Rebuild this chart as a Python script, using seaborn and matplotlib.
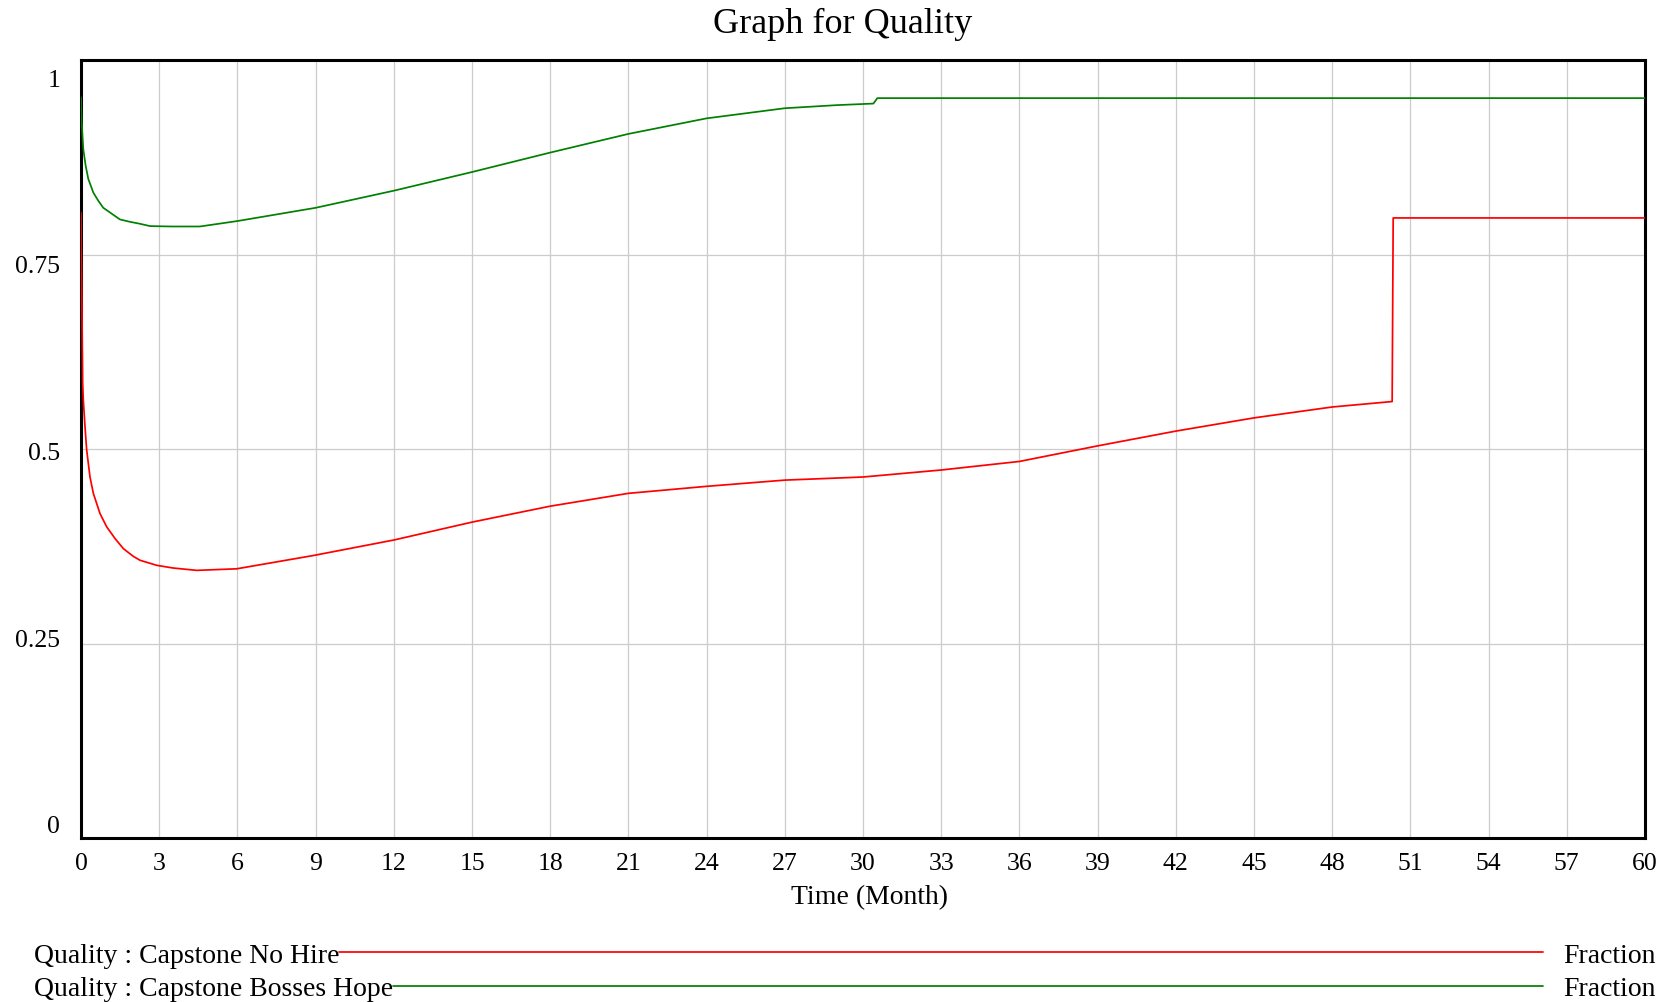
import matplotlib
matplotlib.use("Agg")
import matplotlib.pyplot as plt
from matplotlib.lines import Line2D
import seaborn as sns
import pandas as pd

# ---------------- data ----------------
title = "Graph for Quality"
x_label = "Time (Month)"

no_hire_t = [0, 0.064, 0.089, 0.153, 0.217, 0.345, 0.473, 0.729, 0.985, 1.304, 1.624, 2.007,
             2.263, 2.903, 3.54, 4.44, 5.97, 8.9,
             12, 15, 18, 21, 24, 27, 30, 33, 36, 39, 42, 45, 48, 50.3, 50.34, 60]
no_hire_v = [0.804, 0.585, 0.563, 0.529, 0.499, 0.464, 0.443, 0.417, 0.400, 0.385, 0.372, 0.362,
             0.357, 0.3505, 0.347, 0.344, 0.346, 0.363,
             0.383, 0.406, 0.4265, 0.443, 0.452, 0.460, 0.464, 0.473, 0.484, 0.504, 0.523, 0.540,
             0.554, 0.561, 0.797, 0.797]

bosses_t = [0, 0.026, 0.089, 0.179, 0.281, 0.473, 0.665, 0.856, 1.112, 1.496, 1.88, 2.26, 2.65,
            3.5, 4.56, 6, 9,
            12, 15, 18, 21, 24, 27, 29, 30.4, 30.55, 60]
bosses_v = [0.952, 0.920, 0.885, 0.864, 0.847, 0.8295, 0.819, 0.810, 0.804, 0.795, 0.792, 0.7895, 0.7865,
            0.786, 0.786, 0.793, 0.810,
            0.832, 0.856, 0.881, 0.905, 0.925, 0.938, 0.942, 0.944, 0.951, 0.951]

series_names = ["Quality : Capstone No Hire", "Quality : Capstone Bosses Hope"]
series_units = ["Fraction", "Fraction"]
series_colors = ["#ff0000", "#008000"]

x_ticks = list(range(0, 61, 3))
y_ticks = [0, 0.25, 0.5, 0.75, 1]
y_tick_labels = ["0", "0.25", "0.5", "0.75", "1"]

# ---------------- style ----------------
sns.set_theme(style="white")
plt.rcParams["font.family"] = ["Liberation Serif", "DejaVu Serif"]
plt.rcParams["text.color"] = "black"

W, H = 1674, 1003
fig = plt.figure(figsize=(W / 100, H / 100), dpi=100)
fig.patch.set_facecolor("white")

ax = fig.add_axes([81 / W, 1 - 839 / H, (1645 - 81) / W, (839 - 61) / H])
ax.set_facecolor("white")

df = pd.concat([
    pd.DataFrame({"t": no_hire_t, "v": no_hire_v, "series": series_names[0]}),
    pd.DataFrame({"t": bosses_t, "v": bosses_v, "series": series_names[1]}),
], ignore_index=True)

sns.lineplot(data=df, x="t", y="v", hue="series",
             palette=dict(zip(series_names, series_colors)),
             estimator=None, sort=False, legend=False, ax=ax,
             linewidth=1.25, zorder=3)

ax.set_xlim(0, 60)
ax.set_ylim(0, 1)

# x ticks + vertical grid
ax.set_xticks(x_ticks)
ax.set_xticklabels([str(t) for t in x_ticks])
ax.xaxis.grid(True, color="#cccccc", linewidth=0.9)

# y labels placed Vensim-style (evenly spread slightly inside the frame)
ax.set_yticks([0.018 + 0.96 * v for v in y_ticks])
ax.set_yticklabels(y_tick_labels)
ax.set_yticks(y_ticks[1:-1], minor=True)
ax.yaxis.grid(False, which="major")
ax.yaxis.grid(True, which="minor", color="#cccccc", linewidth=0.9)
ax.set_axisbelow(True)

ax.tick_params(axis="both", which="both", length=0, labelsize=18.5, colors="black")
ax.tick_params(axis="x", pad=10)
ax.tick_params(axis="y", pad=15)

for s in ax.spines.values():
    s.set_visible(True)
    s.set_color("black")
    s.set_linewidth(2.2)

ax.set_xlabel(x_label, fontsize=20, color="black", labelpad=7)
ax.xaxis.label.set_x(0.504)
ax.set_ylabel("")

fig.text(843 / W, 1 - 33 / H, title, fontsize=26, ha="center", va="baseline")

# ---------------- Vensim-style legend at bottom ----------------
renderer = fig.canvas.get_renderer()
row_baselines = [963, 996.5]
row_lines = [953.3, 986.7]
for i, (name, unit, color) in enumerate(zip(series_names, series_units, series_colors)):
    txt = fig.text(34 / W, 1 - row_baselines[i] / H, name, fontsize=20,
                   ha="left", va="baseline")
    bb = txt.get_window_extent(renderer)
    fig.add_artist(Line2D([bb.x1 / W, 1543 / W], [1 - row_lines[i] / H] * 2,
                          color=color, linewidth=1.25))
    fig.text(1563 / W, 1 - row_baselines[i] / H, unit, fontsize=20,
             ha="left", va="baseline")

fig.savefig("out.png", dpi=100, facecolor="white")
